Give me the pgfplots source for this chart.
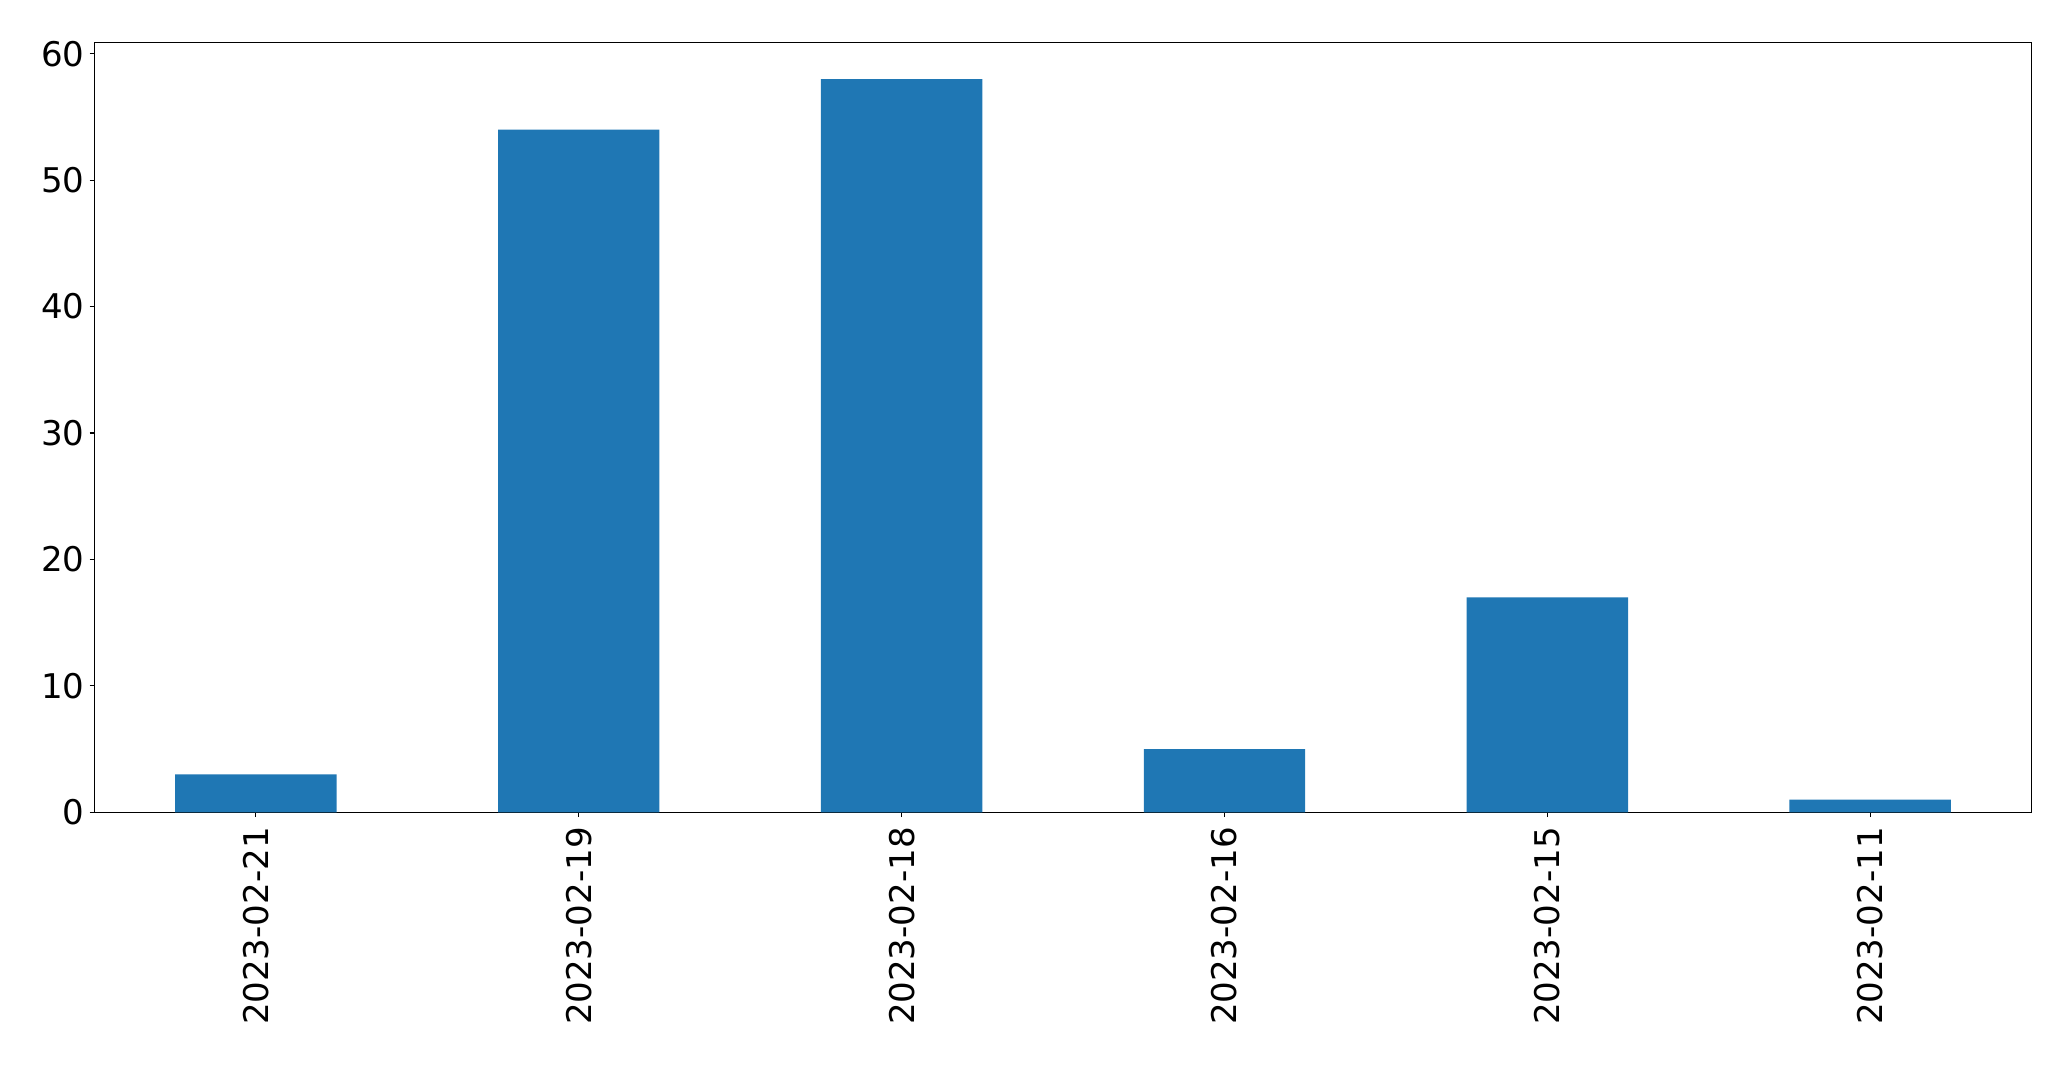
\documentclass[border=0pt]{standalone}
\usepackage{pgfplots}
\pgfplotsset{compat=1.18}
\usepackage{fontspec}
\setmainfont{DejaVu Sans}
\definecolor{barblue}{HTML}{1F77B4}
\begin{document}
\begin{tikzpicture}
\useasboundingbox (-68.04pt,-181.2pt) rectangle (1423.1pt,584.9pt);
\begin{axis}[
  at={(0,0)}, anchor=south west,
  scale only axis,
  width=1394.8pt, height=554.4pt,
  xmin=-0.5, xmax=5.5, ymin=0, ymax=60.9,
  ybar, bar width=0.5, bar shift=0pt,
  xtick={0,1,2,3,4,5},
  xticklabels={2023-02-21,2023-02-19,2023-02-18,2023-02-16,2023-02-15,2023-02-11},
  ytick={0,10,20,30,40,50,60},
  tick align=outside, tick pos=left,
  major tick length=3.5pt,
  every tick/.style={black, line width=0.8pt},
  axis line style={black, line width=0.8pt},
  font=\fontsize{24.5}{28}\selectfont,
  /pgf/number format/assume math mode=true,
  x tick label style={rotate=90, anchor=east, inner sep=0pt, xshift=-7pt},
  y tick label style={inner sep=0pt, xshift=-3.5pt},
]
\addplot[fill=barblue, draw=none] coordinates {(0,3) (1,54) (2,58) (3,5) (4,17) (5,1)};
\end{axis}
\end{tikzpicture}
\end{document}
